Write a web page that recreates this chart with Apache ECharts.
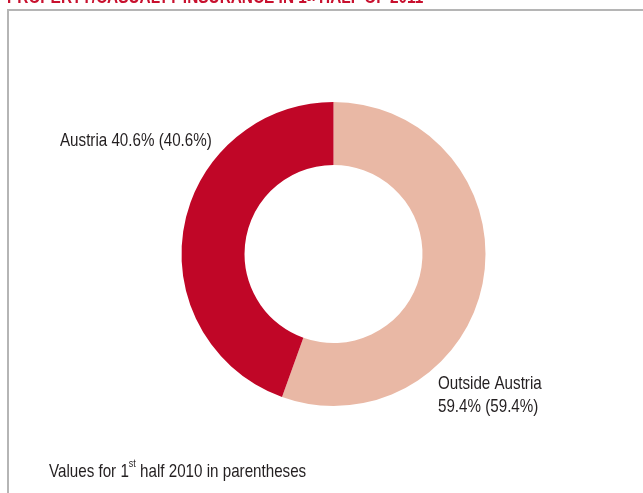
<!DOCTYPE html>
<html lang="en">

<head>
    <meta charset="UTF-8">
    <title>Property/Casualty insurance 1st half 2011</title>
    <style>
        * {
            margin: 0;
            padding: 0;
        }

        #main {
            width: 643px;
            height: 493px;
            background-color: #ffffff;
        }
    </style>
</head>
<script src="https://cdn.jsdelivr.net/npm/echarts@6/dist/echarts.min.js"></script>

<body>
    <div id="main"></div>
    <script>
        // data
        const categories = ['Outside Austria', 'Austria'];
        const sliceValues = [55.5, 44.5];      // slice sizes as drawn
        const shares2011 = [59.4, 40.6];       // printed shares, 1st half 2011
        const shares2010 = [59.4, 40.6];       // printed shares, 1st half 2010
        const sliceColors = ['#e9b8a5', '#c00627'];

        // no condensed font installed -> squeeze Liberation Sans horizontally
        const FONT = "'Liberation Sans', Arial, sans-serif";
        const SQUEEZE = 0.82;
        const FS = 18.5;
        const TEXT = '#231f20';

        var myChart = echarts.init(document.getElementById('main'));

        const pieData = categories.map((name, i) => ({
            name: name,
            value: sliceValues[i],
            itemStyle: { color: sliceColors[i] }
        }));

        const pct = (v) => v.toFixed(1) + '%';

        // label texts, built from the arrays
        const outsideLine1 = categories[0];
        const outsideLine2 = pct(shares2011[0]) + ' (' + pct(shares2010[0]) + ')';
        const austriaLabel = categories[1] + ' ' + pct(shares2011[1]) + ' (' + pct(shares2010[1]) + ')';

        function label(text, x, y) {
            return {
                type: 'text',
                x: x,
                y: y,
                scaleX: SQUEEZE,
                silent: true,
                style: {
                    text: text,
                    font: FS + 'px ' + FONT,
                    fill: TEXT,
                    align: 'left',
                    verticalAlign: 'middle'
                }
            };
        }

        var option = {
            animation: false,
            backgroundColor: '#ffffff',
            graphic: [
                {
                    // frame, cut at the window edges
                    type: 'polyline',
                    shape: { points: [[8, 493], [8, 10], [643, 10]] },
                    style: { stroke: '#b5b5b5', lineWidth: 2, fill: null }
                },
                {
                    // heading, mostly above the visible area
                    type: 'text',
                    x: 7,
                    y: 7,
                    scaleX: 0.81,
                    silent: true,
                    style: {
                        text: '{t|PROPERTY/CASUALTY INSURANCE IN 1}{s|st}{t| HALF OF 2011}',
                        verticalAlign: 'bottom',
                        rich: {
                            t: { fontFamily: FONT, fontWeight: 'bold', fontSize: 19, fill: '#c8102e', height: 19, verticalAlign: 'bottom' },
                            s: { fontFamily: FONT, fontWeight: 'bold', fontSize: 11, fill: '#c8102e', height: 19, verticalAlign: 'top' }
                        }
                    }
                },
                label(austriaLabel, 60, 140.5),
                label(outsideLine1, 438, 383.5),
                label(outsideLine2, 438, 407),
                {
                    type: 'text',
                    x: 49,
                    y: 468,
                    scaleX: SQUEEZE,
                    silent: true,
                    style: {
                        text: '{t|Values for 1}{s|st}{t| half 2010 in parentheses}',
                        verticalAlign: 'middle',
                        rich: {
                            t: { fontFamily: FONT, fontSize: FS, fill: TEXT, height: 22, verticalAlign: 'bottom' },
                            s: { fontFamily: FONT, fontSize: 11, fill: TEXT, height: 22, verticalAlign: 'top', padding: [0, 0, 8, 0] }
                        }
                    }
                }
            ],
            series: [
                {
                    type: 'pie',
                    center: [333.5, 254],
                    radius: [89, 152],
                    startAngle: 90,
                    clockwise: true,
                    silent: true,
                    data: pieData,
                    label: { show: false },
                    labelLine: { show: false }
                }
            ]
        };

        option && myChart.setOption(option);
    </script>
</body>

</html>
